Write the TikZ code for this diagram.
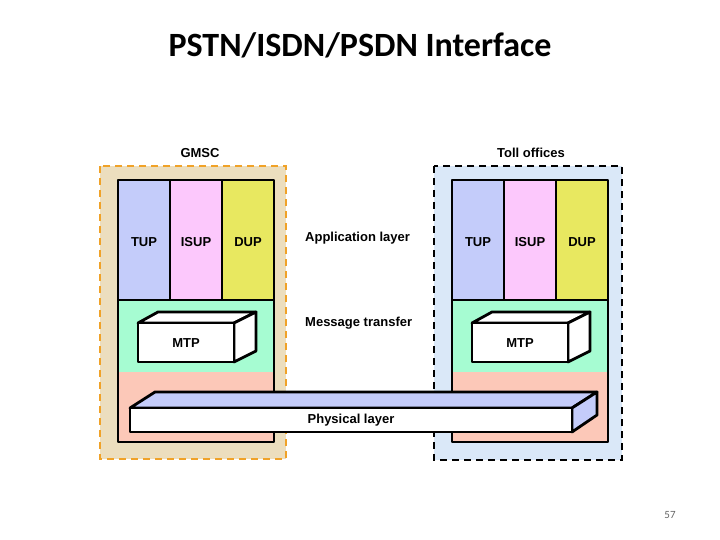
\documentclass[tikz,border=0pt]{standalone}
\usepackage{fontspec}
\setmainfont{Liberation Sans}
\newfontfamily\slidefont{Carlito}
\usetikzlibrary{positioning}
\definecolor{tupblue}{RGB}{196,204,250}
\definecolor{isuppink}{RGB}{252,200,252}
\definecolor{dupyellow}{RGB}{232,232,96}
\definecolor{mtpgreen}{RGB}{166,252,210}
\definecolor{physsalmon}{RGB}{252,200,184}
\definecolor{gmscbeige}{RGB}{236,222,190}
\definecolor{tollblue}{RGB}{218,232,248}
\definecolor{dashorange}{RGB}{240,162,40}
\tikzset{
  thick line/.style={line width=2.8pt, line join=round},
  frame/.style={line width=2.6pt, dash pattern=on 7pt off 5pt},
  lbl/.style={font=\bfseries\fontsize{13}{15}\selectfont, inner sep=0pt},
}
\begin{document}
\begin{tikzpicture}[x=1pt,y=-1pt]
        \useasboundingbox (0,0) rectangle (720,540);
        \node[font=\slidefont\bfseries\fontsize{34}{40}\selectfont] (title) at (360,45) {PSTN/ISDN/PSDN Interface};
        \node[font=\slidefont\fontsize{11}{13}\selectfont, text=black!60] (pagenum) at (670,515) {57};

        % the two nodes
        \draw[frame, draw=dashorange, fill=gmscbeige] (100,166) rectangle (286,459);
        \draw[frame, draw=black, fill=tollblue] (434,166) rectangle (622,460);
        \node[lbl] (gmsc) at (200,153) {GMSC};
        \node[lbl] (toll) at (531,153) {Toll offices};

        \foreach \dx/\side in {0/l, 334/r}{
          \begin{scope}[xshift=\dx]
            \fill[tupblue] (118,180) rectangle (170,300);
            \fill[isuppink] (170,180) rectangle (222,300);
            \fill[dupyellow] (222,180) rectangle (274,300);
            \fill[mtpgreen] (118,300) rectangle (274,372);
            \fill[physsalmon] (118,372) rectangle (274,442);
            \draw[thick line] (118,180) rectangle (274,442);
            \draw[thick line] (170,180) -- (170,300);
            \draw[thick line] (222,180) -- (222,300);
            \draw[thick line] (118,300) -- (274,300);
            \node[lbl] (tup\side) at (144,242) {TUP};
            \node[lbl] (isup\side) at (196,242) {ISUP};
            \node[lbl] (dup\side) at (248,242) {DUP};
            % MTP block
            \draw[thick line, fill=white] (138,323) -- (158,312) -- (256,312) -- (234,323) -- cycle;
            \draw[thick line, fill=white] (234,323) -- (256,312) -- (256,351) -- (234,362) -- cycle;
            \draw[thick line, fill=white] (138,323) rectangle (234,362);
            \node[lbl] (mtp\side) at (186,343) {MTP};
          \end{scope}
        }

        \node[lbl, anchor=west] (app) at (305,238) {Application layer};
        \node[lbl, anchor=west] (msg) at (305,323) {Message transfer};

        % physical layer bar
        \draw[thick line, fill=tupblue] (130,408) -- (155,392) -- (597,392) -- (572,408) -- cycle;
        \draw[thick line, fill=tupblue] (572,408) -- (597,392) -- (597,415) -- (572,432) -- cycle;
        \draw[thick line, fill=white] (130,408) rectangle (572,432);
        \node[lbl] (phys) at (351,420) {Physical layer};

      \end{tikzpicture}
\end{document}
